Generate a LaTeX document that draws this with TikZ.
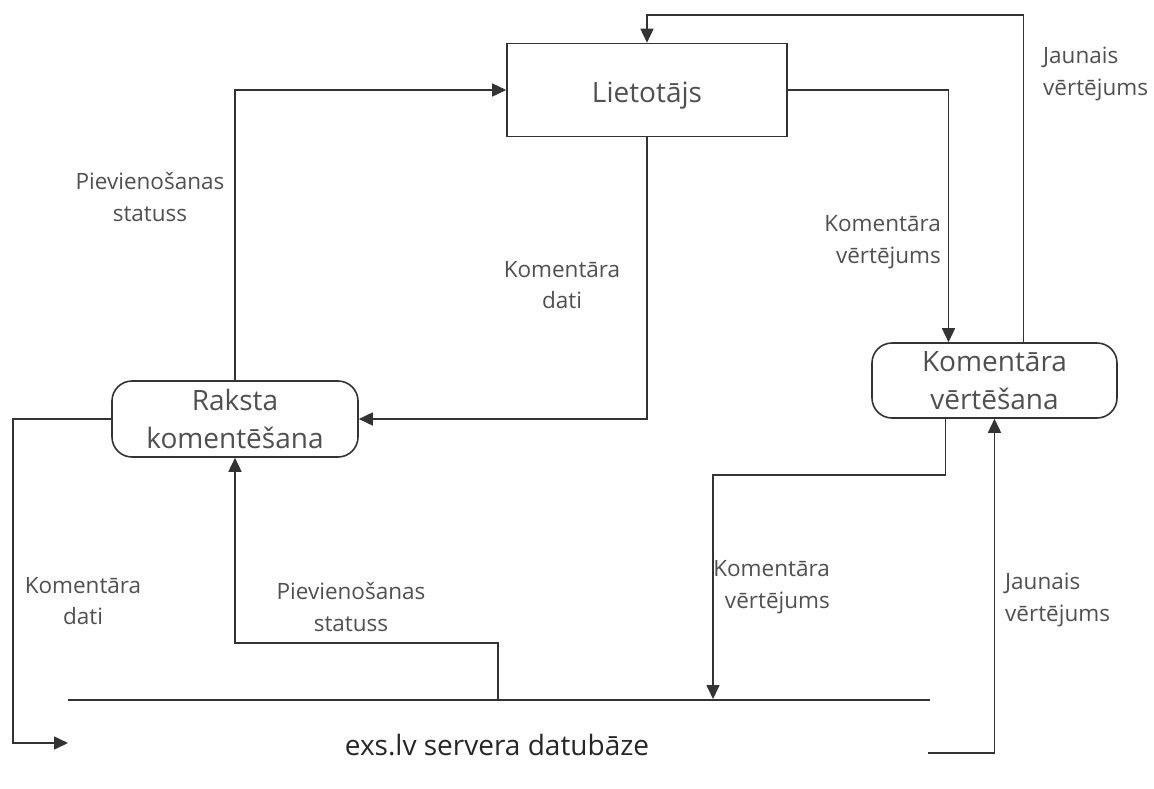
\documentclass[tikz,border=0pt]{standalone}
\usepackage{fontspec}
\setmainfont{Open Sans}
\usetikzlibrary{arrows.meta}
\definecolor{ink}{HTML}{333333}
\definecolor{txt}{HTML}{505050}
\begin{document}
\begin{tikzpicture}[x=1pt,y=-1pt,
 line/.style={draw=ink, line width=1.6pt},
 arr/.style={line, -{Triangle[length=14pt,width=13pt]}},
 proc/.style={draw=ink, line width=1.6pt, rounded corners=20pt, minimum width=246pt, minimum height=76pt, align=center, font=\fontsize{28}{38}\selectfont, text=txt, inner sep=0pt},
 ent/.style={draw=ink, line width=1.6pt, minimum width=280pt, minimum height=93pt, font=\fontsize{28}{37}\selectfont, text=txt, text height=24pt, text depth=0pt},
 lbl/.style={font=\fontsize{22.5}{31.5}\selectfont, text=txt, align=center, inner sep=0pt}
]
\useasboundingbox[fill=white] (0,0) rectangle (1154,788);
\node[ent] (lt) at (647,90) {Lietotājs};
\node[proc] (rk) at (235,419) {Raksta\\komentēšana};
\node[proc, minimum width=245pt, minimum height=75pt] (kv) at (994.5,380.5) {Komentāra\\vērtēšana};
\node[font=\fontsize{28}{34}\selectfont, text=black!85, inner sep=0pt] (db) at (497,745) {exs.lv servera datubāze};
\coordinate (dbL) at (68,700);
\coordinate (dbR) at (930,700);
\coordinate (dbin) at (68,743);
\coordinate (dbout1) at (498,700);
\coordinate (dbin2) at (713,699);
\coordinate (dbout2) at (928,753);
% connectors
\draw[line] (dbL) -- (dbR);
\draw[arr] ([xshift=29pt]kv.north) |- (647,15) -- (lt.north);
\draw[arr] (lt.east) -| ([xshift=-46pt]kv.north);
\draw[arr] (rk.north) |- (lt.west);
\draw[arr] (lt.south) |- (rk.east);
\draw[arr] (rk.west) -| (13,743) -- (dbin);
\draw[arr] (dbout1) -- (498,643) -| (rk.south);
\draw[arr] ([xshift=-49pt]kv.south) |- (713,475) -- (dbin2);
\draw[arr] (dbout2) -| (kv.south);
% labels
\node[lbl] (l1) at (150,197) {Pievienošanas\\statuss};
\node[lbl] (l2) at (562,285) {Komentāra\\dati};
\node[lbl, align=right, anchor=east] (l3) at (941,242) {Komentāra\\vērtējums};
\node[lbl, align=left, anchor=west] (l4) at (1043,74) {Jaunais\\vērtējums};
\node[lbl] (l5) at (83,601) {Komentāra\\dati};
\node[lbl] (l6) at (351,607) {Pievienošanas\\statuss};
\node[lbl, align=right, anchor=east] (l7) at (830,587) {Komentāra\\vērtējums};
\node[lbl, align=left, anchor=west] (l8) at (1005,600) {Jaunais\\vērtējums};
\end{tikzpicture}
\end{document}
